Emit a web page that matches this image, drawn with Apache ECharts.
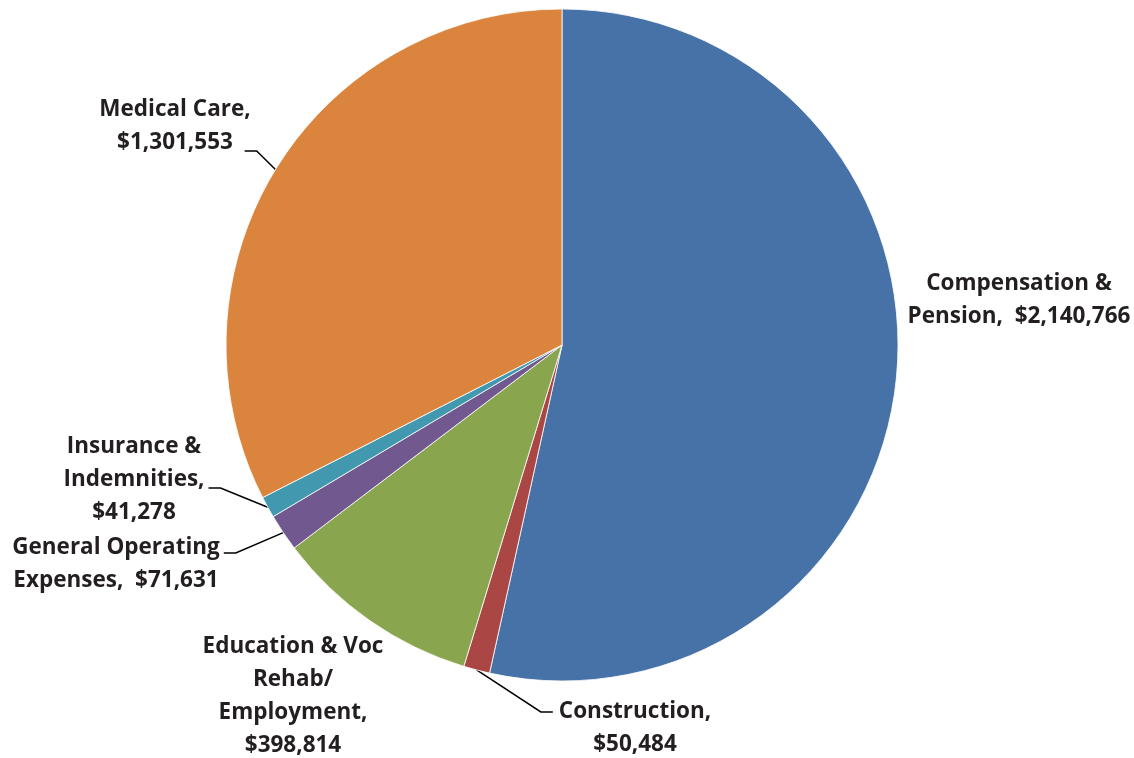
<!DOCTYPE html>
<html>
<head>
<meta charset="utf-8">
<title>Spending by category</title>
<script src="https://cdn.jsdelivr.net/npm/echarts@6/dist/echarts.min.js"></script>
<style>
    html, body { margin: 0; padding: 0; background: #fff; }
    #chart { width: 1134px; height: 758px; }
</style>
</head>
<body>
<div id="chart"></div>
<script>
// categories, label wording and values
var categories = [
    'Compensation &\nPension',
    'Construction',
    'Education & Voc\nRehab/\nEmployment',
    'General Operating\nExpenses',
    'Insurance &\nIndemnities',
    'Medical Care'
];
var valueSeparators = ['  ', '\n', '\n', '  ', '\n', '\n'];
var values = [2140766, 50484, 398814, 71631, 41278, 1301553];
var colors = ['#4672a8', '#aa4644', '#89a54e', '#71588f', '#4198af', '#db843d'];

// where each label sits (centre of text block) and how its leader attaches
var labelPlaces = [
    { x: 1019, y: 300, line: false },
    { x: 635, y: 728, line: true, side: 'left', gap: 6, dy: -16 },
    { x: 293, y: 696, line: false },
    { x: 116, y: 564, line: true, side: 'right', gap: 4, dy: -11 },
    { x: 134, y: 480, line: true, side: 'right', gap: 4, dy: 8 },
    { x: 175, y: 126, line: true, side: 'right', gap: -6, dy: 25 }
];

function money(v) {
    return '$' + v.toString().replace(/\B(?=(\d{3})+(?!\d))/g, ',');
}

var chart = echarts.init(document.getElementById('chart'));

var seriesData = [];
for (var i = 0; i < values.length; i++) {
    seriesData.push({
        name: categories[i],
        value: values[i],
        itemStyle: { color: colors[i] },
        labelLine: { show: labelPlaces[i].line }
    });
}

var option = {
    animation: false,
    series: [
        {
            type: 'pie',
            center: [562, 345],
            radius: 336,
            startAngle: 90,
            clockwise: true,
            avoidLabelOverlap: false,
            itemStyle: {
                borderColor: '#fff',
                borderWidth: 0.8
            },
            label: {
                show: true,
                position: 'outside',
                fontFamily: 'Open Sans',
                fontWeight: 'bold',
                fontSize: 22.5,
                lineHeight: 33,
                color: '#231f20',
                formatter: function (p) {
                    return p.name + ',' + valueSeparators[p.dataIndex] + money(p.value);
                }
            },
            labelLine: {
                length: 20,
                length2: 12,
                lineStyle: { color: '#000', width: 1.5 }
            },
            labelLayout: function (params) {
                var place = labelPlaces[params.dataIndex];
                var out = {
                    x: place.x,
                    y: place.y,
                    align: 'center',
                    verticalAlign: 'middle'
                };
                if (place.line && params.labelLinePoints) {
                    var half = params.labelRect.width / 2 + place.gap;
                    var sign = place.side === 'right' ? 1 : -1;
                    var endX = place.x + sign * half;
                    var endY = place.y + place.dy;
                    out.labelLinePoints = [
                        params.labelLinePoints[0],
                        [endX + sign * 12, endY],
                        [endX, endY]
                    ];
                }
                return out;
            },
            data: seriesData
        }
    ]
};

chart.setOption(option);
</script>
</body>
</html>
